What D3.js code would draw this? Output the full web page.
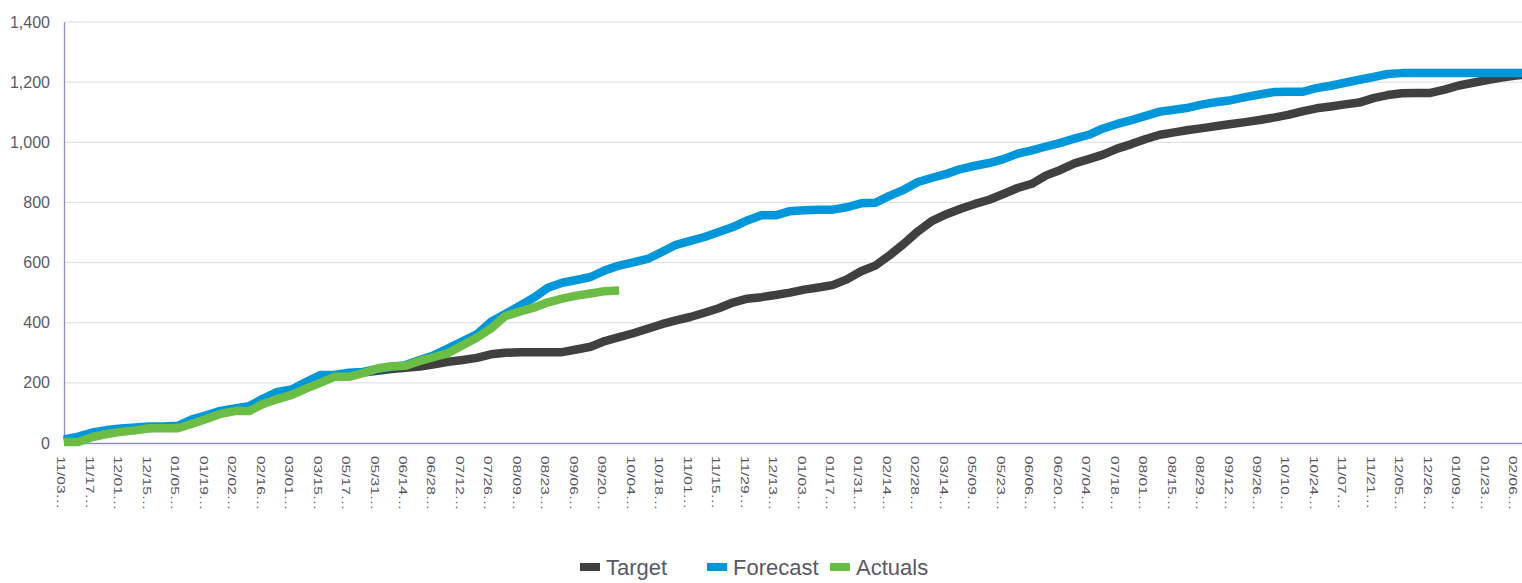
<!DOCTYPE html>
<html>
<head>
<meta charset="utf-8">
<script src="https://cdn.jsdelivr.net/npm/d3@7"></script>
<style>
  html, body { margin: 0; padding: 0; background: #ffffff; overflow: hidden; }
  svg { display: block; }
  text { font-family: "Liberation Sans", Arial, sans-serif; }
</style>
</head>
<body>
<svg id="chart" width="1522" height="583"></svg>
<script>
const categories = [
  "11/03","11/10","11/17","11/24","12/01","12/08","12/15","12/22","01/05","01/12",
  "01/19","01/26","02/02","02/09","02/16","02/23","03/01","03/08","03/15","05/10",
  "05/17","05/24","05/31","06/07","06/14","06/21","06/28","07/05","07/12","07/19",
  "07/26","08/02","08/09","08/16","08/23","08/30","09/06","09/13","09/20","09/27",
  "10/04","10/11","10/18","10/25","11/01","11/08","11/15","11/22","11/29","12/06",
  "12/13","12/20","01/03","01/10","01/17","01/24","01/31","02/07","02/14","02/21",
  "02/28","03/07","03/14","05/02","05/09","05/16","05/23","05/30","06/06","06/13",
  "06/20","06/27","07/04","07/11","07/18","07/25","08/01","08/08","08/15","08/22",
  "08/29","09/05","09/12","09/19","09/26","10/03","10/10","10/17","10/24","10/31",
  "11/07","11/14","11/21","11/28","12/05","12/12","12/26","01/02","01/09","01/16",
  "01/23","01/30","02/06","02/13"
];

const target = [
  5, 12, 27, 36, 42, 47, 50, 52, 52, 70,
  85, 102, 110, 114, 138, 158, 168, 192, 212, 222,
  228, 234, 240, 246, 250, 254, 262, 270, 276, 283,
  295, 300, 302, 302, 302, 302, 311, 320, 339, 352,
  365, 380, 395, 408, 419, 433, 448, 467, 480, 485,
  492, 500, 510, 517, 525, 544, 571, 590, 624, 662,
  704, 739, 761, 779, 795, 809, 828, 848, 862, 890,
  908, 930, 944, 959, 979, 994, 1011, 1025, 1033, 1041,
  1047, 1054, 1061, 1067, 1074, 1082, 1091, 1103, 1113, 1119,
  1126, 1132, 1147, 1157, 1163, 1164, 1164, 1175, 1189, 1198,
  1207, 1215, 1222, 1227
];

const forecast = [
  12, 21, 35, 43, 48, 52, 55, 55, 57, 79,
  92, 107, 115, 122, 148, 170, 178, 203, 226, 226,
  234, 236, 246, 253, 259, 276, 292, 315, 338, 361,
  403, 429, 456, 483, 516, 533, 542, 552, 574, 590,
  601, 612, 635, 659, 672, 685, 702, 718, 740, 757,
  757, 771, 774, 776, 776, 784, 797, 799, 822, 842,
  868, 882, 895, 911, 922, 931, 944, 962, 973, 986,
  998, 1012, 1025, 1046, 1061, 1074, 1088, 1102, 1108, 1115,
  1126, 1134, 1140, 1150, 1159, 1167, 1168, 1168, 1180, 1188,
  1198, 1208, 1217, 1227, 1230, 1230, 1230, 1230, 1230, 1230,
  1230, 1230, 1230, 1230
];

const actuals = [
  3, 3, 20, 30, 37, 42, 49, 49, 49, 64,
  80, 97, 106, 106, 130, 146, 160, 181, 200, 220,
  220, 232, 248, 255, 257, 273, 286, 299, 325, 350,
  381, 422, 437, 450, 468, 480, 490, 497, 505, 507
];

const yTicks = [0, 200, 400, 600, 800, 1000, 1200, 1400];

const seriesNames = ["Target", "Forecast", "Actuals"];
const seriesColors = ["#404040", "#0097DA", "#6BBD45"];

const svg = d3.select("#chart");
const plotLeft = 64, plotRight = 1530, plotTop = 22, plotBottom = 443;

const x = d3.scalePoint().domain(categories).range([plotLeft, plotRight]);
const y = d3.scaleLinear().domain([0, 1400]).range([plotBottom, plotTop]);

// gridlines
svg.append("g")
  .selectAll("line")
  .data(yTicks.filter(d => d > 0))
  .join("line")
  .attr("x1", plotLeft).attr("x2", 1522)
  .attr("y1", d => y(d)).attr("y2", d => y(d))
  .attr("stroke", "#DCDCE8").attr("stroke-width", 1);

// y axis
const yAxis = d3.axisLeft(y).tickValues(yTicks).tickSize(0).tickPadding(14)
  .tickFormat(d3.format(","));
const gy = svg.append("g").attr("transform", `translate(${plotLeft},0)`).call(yAxis);
gy.select(".domain").attr("stroke", "#8E90B8").attr("stroke-width", 1.3);
gy.selectAll("text").attr("fill", "#595966").attr("font-size", 16)
  .attr("font-family", "'Liberation Sans', Arial, sans-serif");

// x axis
const xAxis = d3.axisBottom(x)
  .tickValues(categories.filter((d, i) => i % 2 === 0))
  .tickSize(0).tickFormat(d => d + "\u2026");
const gx = svg.append("g").attr("transform", `translate(0,${plotBottom})`).call(xAxis);
gx.select(".domain").attr("stroke", "#8E90B8").attr("stroke-width", 1.3);
gx.selectAll(".tick text")
  .attr("fill", "#555562")
  .attr("font-size", 15.5)
  .attr("font-family", "'Liberation Sans', Arial, sans-serif")
  .attr("text-anchor", "start")
  .attr("x", 0).attr("y", 0).attr("dy", null)
  .attr("transform", "translate(-3,13) rotate(90) scale(1,0.76) translate(0,5.4)");

// lines
const seriesData = [target, forecast, actuals];
const line = d3.line()
  .x((d, i) => x(categories[i]))
  .y(d => y(d));

svg.append("g")
  .selectAll("path")
  .data(seriesData)
  .join("path")
  .attr("d", d => line(d))
  .attr("fill", "none")
  .attr("stroke", (d, i) => seriesColors[i])
  .attr("stroke-width", 8.5)
  .attr("stroke-linejoin", "round")
  .attr("stroke-linecap", "butt");

// legend
const legendX = [580, 707, 830];
const lg = svg.append("g");
seriesNames.forEach((name, i) => {
  lg.append("rect")
    .attr("x", legendX[i]).attr("y", 563)
    .attr("width", 20).attr("height", 8)
    .attr("fill", seriesColors[i]);
  lg.append("text")
    .attr("x", legendX[i] + 26).attr("y", 575)
    .attr("font-size", 22)
    .attr("fill", "#595966")
    .text(name);
});
</script>
</body>
</html>
